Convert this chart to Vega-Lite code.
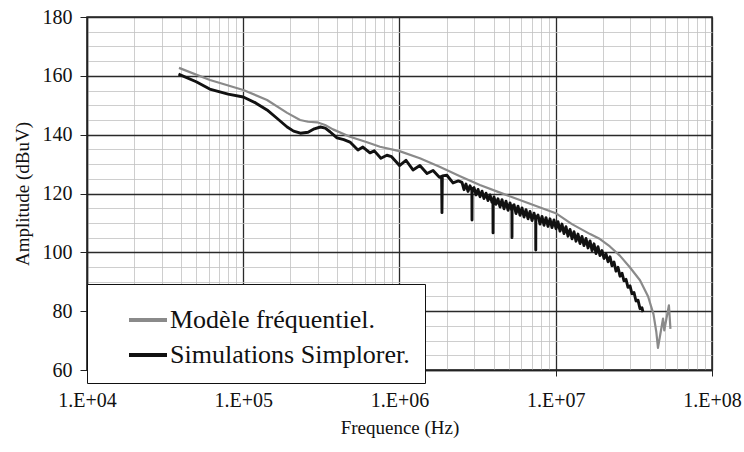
{
  "$schema": "https://vega.github.io/schema/vega-lite/v6.json",
  "width": 625,
  "height": 353,
  "autosize": {"type": "none"},
  "padding": {"left": 87, "top": 17, "right": 32, "bottom": 82},
  "background": "white",
  "config": {
    "view": {"stroke": "#222222", "strokeWidth": 1.5},
    "font": "'Liberation Serif', 'Times New Roman', serif",
    "axis": {"labelFont": "'Liberation Serif', 'Times New Roman', serif", "titleFont": "'Liberation Serif', 'Times New Roman', serif", "titleFontWeight": "normal", "labelColor": "#111111", "titleColor": "#111111", "domainColor": "#222222", "domainWidth": 1.5}
  },
  "data": {
    "values": [
      {"f": 38800, "v": 162.7, "s": "M"},
      {"f": 61200, "v": 158.6, "s": "M"},
      {"f": 100000, "v": 155.2, "s": "M"},
      {"f": 142000, "v": 151.8, "s": "M"},
      {"f": 191000, "v": 147.4, "s": "M"},
      {"f": 231000, "v": 145.0, "s": "M"},
      {"f": 260000, "v": 144.4, "s": "M"},
      {"f": 297000, "v": 144.2, "s": "M"},
      {"f": 334000, "v": 143.3, "s": "M"},
      {"f": 375000, "v": 141.8, "s": "M"},
      {"f": 482000, "v": 139.3, "s": "M"},
      {"f": 620000, "v": 137.4, "s": "M"},
      {"f": 750000, "v": 135.9, "s": "M"},
      {"f": 1000000, "v": 134.4, "s": "M"},
      {"f": 1350000, "v": 132.0, "s": "M"},
      {"f": 1820000, "v": 129.0, "s": "M"},
      {"f": 2440000, "v": 125.9, "s": "M"},
      {"f": 3270000, "v": 122.9, "s": "M"},
      {"f": 4400000, "v": 120.3, "s": "M"},
      {"f": 6840000, "v": 116.5, "s": "M"},
      {"f": 10000000, "v": 113.3, "s": "M"},
      {"f": 12700000, "v": 109.6, "s": "M"},
      {"f": 16600000, "v": 106.2, "s": "M"},
      {"f": 19200000, "v": 104.5, "s": "M"},
      {"f": 22200000, "v": 102.0, "s": "M"},
      {"f": 25800000, "v": 98.8, "s": "M"},
      {"f": 29700000, "v": 95.0, "s": "M"},
      {"f": 34600000, "v": 90.5, "s": "M"},
      {"f": 39000000, "v": 85.0, "s": "M"},
      {"f": 42200000, "v": 79.0, "s": "M"},
      {"f": 44000000, "v": 73.0, "s": "M"},
      {"f": 45100000, "v": 67.5, "s": "M"},
      {"f": 48600000, "v": 77.5, "s": "M"},
      {"f": 49500000, "v": 73.5, "s": "M"},
      {"f": 53000000, "v": 82.0, "s": "M"},
      {"f": 54200000, "v": 74.0, "s": "M"},

      {"f": 38500, "v": 160.6, "s": "S"},
      {"f": 50000, "v": 158.0, "s": "S"},
      {"f": 61000, "v": 155.5, "s": "S"},
      {"f": 80000, "v": 153.8, "s": "S"},
      {"f": 100000, "v": 152.8, "s": "S"},
      {"f": 120000, "v": 150.8, "s": "S"},
      {"f": 142000, "v": 148.4, "s": "S"},
      {"f": 165000, "v": 145.5, "s": "S"},
      {"f": 191000, "v": 142.6, "s": "S"},
      {"f": 210000, "v": 141.2, "s": "S"},
      {"f": 232000, "v": 140.5, "s": "S"},
      {"f": 260000, "v": 140.8, "s": "S"},
      {"f": 285000, "v": 142.0, "s": "S"},
      {"f": 312000, "v": 142.6, "s": "S"},
      {"f": 335000, "v": 142.2, "s": "S"},
      {"f": 359000, "v": 141.0, "s": "S"},
      {"f": 398000, "v": 138.9, "s": "S"},
      {"f": 440000, "v": 138.3, "s": "S"},
      {"f": 482000, "v": 137.5, "s": "S"},
      {"f": 542000, "v": 134.8, "s": "S"},
      {"f": 583000, "v": 135.8, "s": "S"},
      {"f": 647000, "v": 133.8, "s": "S"},
      {"f": 690000, "v": 134.5, "s": "S"},
      {"f": 760000, "v": 132.0, "s": "S"},
      {"f": 830000, "v": 133.0, "s": "S"},
      {"f": 890000, "v": 132.5, "s": "S"},
      {"f": 1000000, "v": 129.5, "s": "S"},
      {"f": 1100000, "v": 131.3, "s": "S"},
      {"f": 1220000, "v": 128.0, "s": "S"},
      {"f": 1350000, "v": 129.5, "s": "S"},
      {"f": 1500000, "v": 126.8, "s": "S"},
      {"f": 1640000, "v": 127.8, "s": "S"},
      {"f": 1800000, "v": 125.5, "s": "S"},
      {"f": 1860000, "v": 125.8, "s": "S"},
      {"f": 1870000, "v": 113.5, "s": "S"},
      {"f": 1880000, "v": 126.0, "s": "S"},
      {"f": 2010000, "v": 126.2, "s": "S"},
      {"f": 2200000, "v": 123.6, "s": "S"},
      {"f": 2380000, "v": 124.3, "s": "S"},
      {"f": 2512000, "v": 123.8, "s": "S"},
      {"f": 2587000, "v": 121.3, "s": "S"},
      {"f": 2664000, "v": 123.2, "s": "S"},
      {"f": 2744000, "v": 120.7, "s": "S"},
      {"f": 2826000, "v": 122.6, "s": "S"},
      {"f": 2905000, "v": 121.0, "s": "S"},
      {"f": 2911000, "v": 111.0, "s": "S"},
      {"f": 2917000, "v": 121.5, "s": "S"},
      {"f": 2998000, "v": 122.0, "s": "S"},
      {"f": 3088000, "v": 119.5, "s": "S"},
      {"f": 3180000, "v": 121.4, "s": "S"},
      {"f": 3275000, "v": 118.9, "s": "S"},
      {"f": 3373000, "v": 120.8, "s": "S"},
      {"f": 3474000, "v": 118.3, "s": "S"},
      {"f": 3578000, "v": 120.1, "s": "S"},
      {"f": 3685000, "v": 117.6, "s": "S"},
      {"f": 3795000, "v": 119.5, "s": "S"},
      {"f": 3908000, "v": 117.0, "s": "S"},
      {"f": 3962000, "v": 117.6, "s": "S"},
      {"f": 3970000, "v": 106.6, "s": "S"},
      {"f": 3978000, "v": 117.6, "s": "S"},
      {"f": 4025000, "v": 118.8, "s": "S"},
      {"f": 4146000, "v": 116.3, "s": "S"},
      {"f": 4270000, "v": 118.2, "s": "S"},
      {"f": 4398000, "v": 115.4, "s": "S"},
      {"f": 4529000, "v": 117.9, "s": "S"},
      {"f": 4665000, "v": 114.8, "s": "S"},
      {"f": 4804000, "v": 117.4, "s": "S"},
      {"f": 4948000, "v": 114.3, "s": "S"},
      {"f": 5096000, "v": 116.8, "s": "S"},
      {"f": 5240000, "v": 114.0, "s": "S"},
      {"f": 5248000, "v": 105.0, "s": "S"},
      {"f": 5256000, "v": 115.5, "s": "S"},
      {"f": 5405000, "v": 116.2, "s": "S"},
      {"f": 5567000, "v": 113.2, "s": "S"},
      {"f": 5733000, "v": 115.7, "s": "S"},
      {"f": 5905000, "v": 112.6, "s": "S"},
      {"f": 6081000, "v": 115.1, "s": "S"},
      {"f": 6264000, "v": 112.0, "s": "S"},
      {"f": 6451000, "v": 114.5, "s": "S"},
      {"f": 6644000, "v": 111.4, "s": "S"},
      {"f": 6843000, "v": 113.9, "s": "S"},
      {"f": 7047000, "v": 110.8, "s": "S"},
      {"f": 7258000, "v": 113.3, "s": "S"},
      {"f": 7440000, "v": 111.0, "s": "S"},
      {"f": 7450000, "v": 100.8, "s": "S"},
      {"f": 7460000, "v": 111.5, "s": "S"},
      {"f": 7699000, "v": 112.7, "s": "S"},
      {"f": 7929000, "v": 109.6, "s": "S"},
      {"f": 8166000, "v": 112.2, "s": "S"},
      {"f": 8410000, "v": 109.2, "s": "S"},
      {"f": 8662000, "v": 111.8, "s": "S"},
      {"f": 8921000, "v": 108.8, "s": "S"},
      {"f": 9188000, "v": 111.4, "s": "S"},
      {"f": 9462000, "v": 108.4, "s": "S"},
      {"f": 9745000, "v": 111.0, "s": "S"},
      {"f": 10040000, "v": 108.0, "s": "S"},
      {"f": 10340000, "v": 110.4, "s": "S"},
      {"f": 10650000, "v": 107.2, "s": "S"},
      {"f": 10960000, "v": 109.6, "s": "S"},
      {"f": 11290000, "v": 106.4, "s": "S"},
      {"f": 11630000, "v": 108.7, "s": "S"},
      {"f": 11980000, "v": 105.5, "s": "S"},
      {"f": 12340000, "v": 107.8, "s": "S"},
      {"f": 12710000, "v": 104.6, "s": "S"},
      {"f": 13090000, "v": 107.0, "s": "S"},
      {"f": 13480000, "v": 103.8, "s": "S"},
      {"f": 13880000, "v": 106.2, "s": "S"},
      {"f": 14300000, "v": 103.0, "s": "S"},
      {"f": 14720000, "v": 105.4, "s": "S"},
      {"f": 15160000, "v": 102.3, "s": "S"},
      {"f": 15620000, "v": 104.7, "s": "S"},
      {"f": 16090000, "v": 101.5, "s": "S"},
      {"f": 16570000, "v": 103.9, "s": "S"},
      {"f": 17060000, "v": 100.6, "s": "S"},
      {"f": 17570000, "v": 102.9, "s": "S"},
      {"f": 18100000, "v": 99.6, "s": "S"},
      {"f": 18640000, "v": 101.9, "s": "S"},
      {"f": 19200000, "v": 98.9, "s": "S"},
      {"f": 19770000, "v": 100.6, "s": "S"},
      {"f": 20360000, "v": 97.9, "s": "S"},
      {"f": 20970000, "v": 99.5, "s": "S"},
      {"f": 21600000, "v": 96.8, "s": "S"},
      {"f": 22250000, "v": 98.5, "s": "S"},
      {"f": 22910000, "v": 95.4, "s": "S"},
      {"f": 23600000, "v": 96.7, "s": "S"},
      {"f": 24300000, "v": 93.6, "s": "S"},
      {"f": 25030000, "v": 94.9, "s": "S"},
      {"f": 25780000, "v": 91.9, "s": "S"},
      {"f": 26550000, "v": 92.9, "s": "S"},
      {"f": 27340000, "v": 90.3, "s": "S"},
      {"f": 28160000, "v": 90.8, "s": "S"},
      {"f": 29000000, "v": 88.1, "s": "S"},
      {"f": 29870000, "v": 88.6, "s": "S"},
      {"f": 30760000, "v": 85.9, "s": "S"},
      {"f": 31680000, "v": 86.35, "s": "S"},
      {"f": 32630000, "v": 83.45, "s": "S"},
      {"f": 33600000, "v": 83.75, "s": "S"},
      {"f": 34610000, "v": 80.85, "s": "S"},
      {"f": 35640000, "v": 81.15, "s": "S"},
      {"f": 36170000, "v": 79.7, "s": "S"}
    ]
  },
  "encoding": {
    "x": {
      "field": "f",
      "type": "quantitative",
      "scale": {"type": "log", "domain": [10000, 100000000]},
      "axis": {
        "values": [10000, 20000, 30000, 40000, 50000, 60000, 70000, 80000, 90000, 100000, 200000, 300000, 400000, 500000, 600000, 700000, 800000, 900000, 1000000, 2000000, 3000000, 4000000, 5000000, 6000000, 7000000, 8000000, 9000000, 10000000, 20000000, 30000000, 40000000, 50000000, 60000000, 70000000, 80000000, 90000000, 100000000],
        "labelExpr": "abs(log(datum.value)/LN10 - round(log(datum.value)/LN10)) < 0.001 ? '1.E+0' + round(log(datum.value)/LN10) : ''",
        "title": "Frequence (Hz)",
        "titleFontSize": 19,
        "titlePadding": 8,
        "labelFontSize": 20,
        "labelPadding": 14,
        "labelOverlap": false,
        "labelFlush": false,
        "labelBound": false,
        "grid": true,
        "gridColor": {"condition": {"test": "abs(log(datum.value)/LN10 - round(log(datum.value)/LN10)) < 0.001", "value": "#2a2a2a"}, "value": "#c2c2c2"},
        "gridWidth": {"condition": {"test": "abs(log(datum.value)/LN10 - round(log(datum.value)/LN10)) < 0.001", "value": 1.3}, "value": 0.8},
        "tickColor": "#222222",
        "tickSize": 6,
        "tickOpacity": {"condition": {"test": "abs(log(datum.value)/LN10 - round(log(datum.value)/LN10)) < 0.001", "value": 1}, "value": 0}
      }
    },
    "y": {
      "field": "v",
      "type": "quantitative",
      "scale": {"domain": [60, 180], "nice": false, "zero": false},
      "axis": {
        "values": [60, 65, 70, 75, 80, 85, 90, 95, 100, 105, 110, 115, 120, 125, 130, 135, 140, 145, 150, 155, 160, 165, 170, 175, 180],
        "labelExpr": "datum.value % 20 === 0 ? datum.label : ''",
        "title": "Amplitude (dBuV)",
        "titleFontSize": 19,
        "titlePadding": 10,
        "labelFontSize": 20,
        "labelPadding": 8,
        "labelOverlap": false,
        "labelFlush": false,
        "labelBound": false,
        "grid": true,
        "gridColor": {"condition": {"test": "datum.value % 20 === 0", "value": "#2a2a2a"}, "value": "#c2c2c2"},
        "gridWidth": {"condition": {"test": "datum.value % 20 === 0", "value": 1.3}, "value": 0.8},
        "tickColor": "#222222",
        "tickSize": 7,
        "tickOpacity": {"condition": {"test": "datum.value % 20 === 0", "value": 1}, "value": 0}
      }
    },
    "color": {
      "field": "s",
      "type": "nominal",
      "scale": {"domain": ["M", "S"], "range": ["#8a8a8a", "#111111"]},
      "legend": {
        "orient": "none",
        "legendX": 0,
        "legendY": 267,
        "title": null,
        "labelExpr": "datum.label == 'M' ? 'Modèle fréquentiel.' : 'Simulations Simplorer.'",
        "symbolType": "stroke",
        "symbolSize": 1444,
        "symbolStrokeWidth": 4,
        "labelFont": "'Liberation Serif', 'Times New Roman', serif",
        "labelFontSize": 26,
        "labelColor": "#111111",
        "labelLimit": 500,
        "labelOffset": 1,
        "symbolOffset": 25,
        "rowPadding": 1,
        "padding": 15,
        "strokeColor": "#111111",
        "fillColor": "white",
        "cornerRadius": 0
      }
    }
  },
  "layer": [
    {
      "transform": [{"filter": "datum.s === 'S'"}],
      "mark": {"type": "line", "strokeWidth": 2.9, "strokeJoin": "round", "clip": true}
    },
    {
      "transform": [{"filter": "datum.s === 'M'"}],
      "mark": {"type": "line", "strokeWidth": 2.2, "strokeJoin": "round", "clip": true}
    }
  ]
}
